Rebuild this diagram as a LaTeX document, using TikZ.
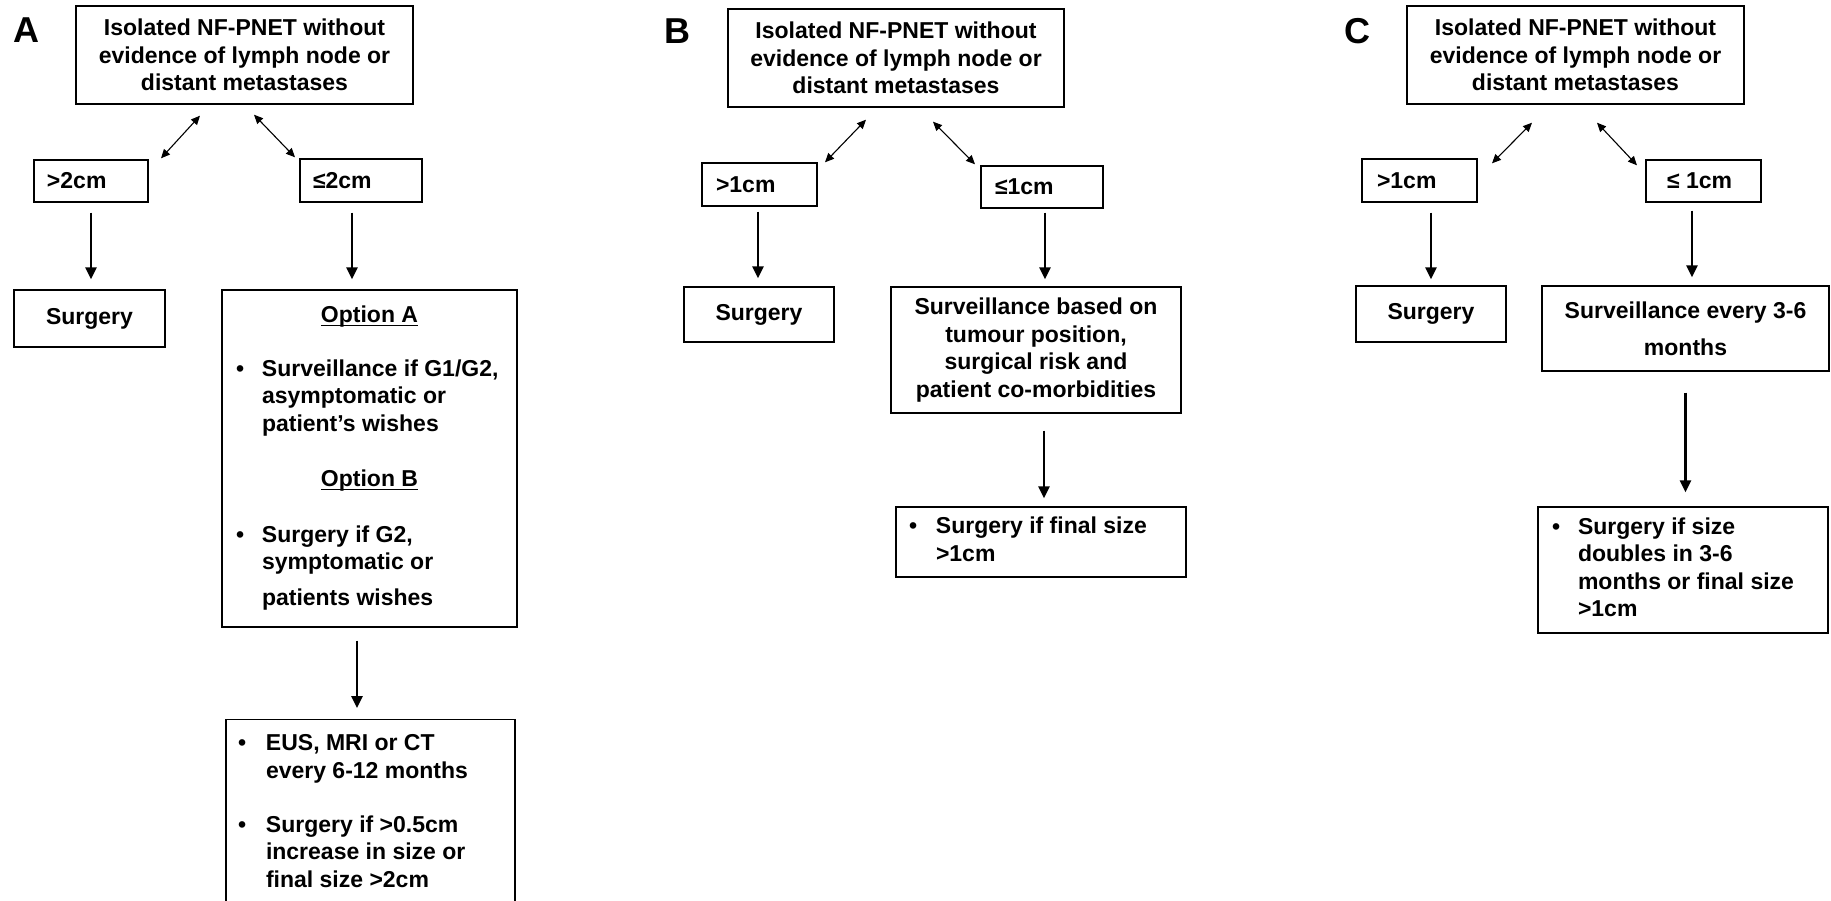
\documentclass[tikz,border=0pt]{standalone}
\usepackage{fontspec}
\setmainfont{Liberation Sans}
\usetikzlibrary{arrows.meta}
\newcommand\mytxt{\fontsize{23}{27.5}\selectfont\bfseries}
\newcommand\myul[1]{\setbox0\hbox{#1}\rlap{\rule[-4pt]{\wd0}{1.6pt}}\box0}
\begin{document}
\begin{tikzpicture}[x=1pt,y=-1pt,
  box/.style={draw=black, line width=1.4pt, inner sep=0pt, font=\mytxt, text=black},
  cbox/.style={box, align=center},
  varrow/.style={line width=2.5pt, -{Triangle[length=12pt,width=11pt]}},
  darrow/.style={line width=1.1pt, {Triangle[length=9pt,width=8pt]}-{Triangle[length=9pt,width=8pt]}},
  lab/.style={font=\fontsize{36}{36}\selectfont\bfseries, inner sep=0pt}]
\useasboundingbox (0,0) rectangle (1831,901);
\clip (0,0) rectangle (1831,901);

% ---------------- Panel A
\node[lab] (labA) at (26.5,30) {A};
\node[cbox, minimum width=337pt, minimum height=98pt] (topA) at (244.5,55) {Isolated NF-PNET without\\evidence of lymph node or\\distant metastases};
\node[box, minimum height=42pt] (gt2) at (91,181) {\makebox[114pt][l]{\hspace*{13pt}>2cm}};
\node[box, minimum height=43pt] (le2) at (361,180.5) {\makebox[122pt][l]{\hspace*{13pt}≤2cm}};
\node[cbox, minimum width=151pt, minimum height=57pt] (surgA) at (89.5,318.5) {Surgery};
\node[box, minimum height=337pt] (optA) at (369.5,458.5) {\begin{tabular}{@{}p{40pt}@{}p{255pt}@{}}
\multicolumn{2}{@{}c@{}}{\myul{Option A}}\\[26.5pt]
\hspace*{14pt}• & Surveillance if G1/G2,\\
 & asymptomatic or\\
 & patient’s wishes\\[27.5pt]
\multicolumn{2}{@{}c@{}}{\myul{Option B}}\\[28.5pt]
\hspace*{14pt}• & Surgery if G2,\\
 & symptomatic or\\[8.5pt]
 & patients wishes
\end{tabular}};
\node[box, anchor=north, inner ysep=12pt] (botA) at (370.5,719) {\begin{tabular}{@{}p{40pt}@{}p{249pt}@{}}
\hspace*{12pt}• & EUS, MRI or CT\\
 & every 6-12 months\\[26.5pt]
\hspace*{12pt}• & Surgery if >0.5cm\\
 & increase in size or\\
 & final size >2cm
\end{tabular}};

\draw[darrow] ([xshift=-44.5pt,yshift=-11pt]topA.south) -- ([xshift=70pt,yshift=1pt]gt2.north);
\draw[darrow] ([xshift=9.5pt,yshift=-10pt]topA.south) -- ([xshift=-66pt,yshift=1pt]le2.north);
\draw[varrow] ([yshift=-10pt]gt2.south) -- ([yshift=10pt]gt2.south |- surgA.north);
\draw[varrow] ([xshift=-9pt,yshift=-10pt]le2.south) -- ([xshift=-9pt,yshift=10pt]le2.south |- optA.north);
\draw[varrow] ([xshift=-12.5pt,yshift=-13pt]optA.south) -- ([xshift=-12.5pt,yshift=11pt]optA.south |- botA.north);

% ---------------- Panel B
\node[lab] (labB) at (677,31.5) {B};
\node[cbox, minimum width=336pt, minimum height=98pt] (topB) at (896,58) {Isolated NF-PNET without\\evidence of lymph node or\\distant metastases};
\node[box, minimum height=43pt] (gt1B) at (759.5,184.5) {\makebox[115pt][l]{\hspace*{14pt}>1cm}};
\node[box, minimum height=42pt] (le1B) at (1042,187) {\makebox[122pt][l]{\hspace*{14pt}≤1cm}};
\node[cbox, minimum width=150pt, minimum height=55pt] (surgB) at (759,314.5) {Surgery};
\node[cbox, minimum width=290pt, minimum height=126pt] (survB) at (1036,350) {Surveillance based on\\tumour position,\\surgical risk and\\patient co-morbidities};
\node[box, minimum height=70pt] (botB) at (1041,542) {\begin{tabular}{@{}p{40pt}@{}p{250pt}@{}}
\hspace*{13pt}• & Surgery if final size\\
 & >1cm
\end{tabular}};

\draw[darrow] ([xshift=-30pt,yshift=-12pt]topB.south) -- ([xshift=65.5pt]gt1B.north);
\draw[darrow] ([xshift=37pt,yshift=-14pt]topB.south) -- ([xshift=-67pt,yshift=1pt]le1B.north);
\draw[varrow] ([xshift=-1.5pt,yshift=-5pt]gt1B.south) -- ([xshift=-1.5pt,yshift=8pt]gt1B.south |- surgB.north);
\draw[varrow] ([xshift=3pt,yshift=-4pt]le1B.south) -- ([xshift=3pt,yshift=7pt]le1B.south |- survB.north);
\draw[varrow] ([xshift=8pt,yshift=-17pt]survB.south) -- ([xshift=8pt,yshift=8pt]survB.south |- botB.north);

% ---------------- Panel C
\node[lab] (labC) at (1357,31.5) {C};
\node[cbox, minimum width=337pt, minimum height=98pt] (topC) at (1575.5,55) {Isolated NF-PNET without\\evidence of lymph node or\\distant metastases};
\node[box, minimum height=43pt] (gt1C) at (1419.5,180.5) {\makebox[115pt][l]{\hspace*{15pt}>1cm}};
\node[box, minimum height=42pt] (le1C) at (1703.5,181) {\makebox[115pt][l]{\hspace*{21pt}≤ 1cm}};
\node[cbox, minimum width=150pt, minimum height=56pt] (surgC) at (1431,314) {Surgery};
\node[cbox, minimum width=287pt, minimum height=85pt] (survC) at (1685.5,328.5) {Surveillance every 3-6\\[9.5pt]months};
\node[box, minimum height=126pt] (botC) at (1683,570) {\begin{tabular}{@{}p{40pt}@{}p{250pt}@{}}
\hspace*{14pt}• & Surgery if size\\
 & doubles in 3-6\\
 & months or final size\\
 & >1cm
\end{tabular}};

\draw[darrow] ([xshift=-43.5pt,yshift=-18pt]topC.south) -- ([xshift=72.5pt,yshift=-5pt]gt1C.north);
\draw[darrow] ([xshift=21.5pt,yshift=-18pt]topC.south) -- ([xshift=-66.5pt,yshift=-6pt]le1C.north);
\draw[varrow] ([xshift=11.5pt,yshift=-10pt]gt1C.south) -- ([xshift=11.5pt,yshift=6pt]gt1C.south |- surgC.north);
\draw[varrow] ([xshift=-11.5pt,yshift=-8pt]le1C.south) -- ([xshift=-11.5pt,yshift=8pt]le1C.south |- survC.north);
\draw[varrow] ([yshift=-21pt]survC.south) -- ([yshift=14pt]survC.south |- botC.north);
\end{tikzpicture}
\end{document}
